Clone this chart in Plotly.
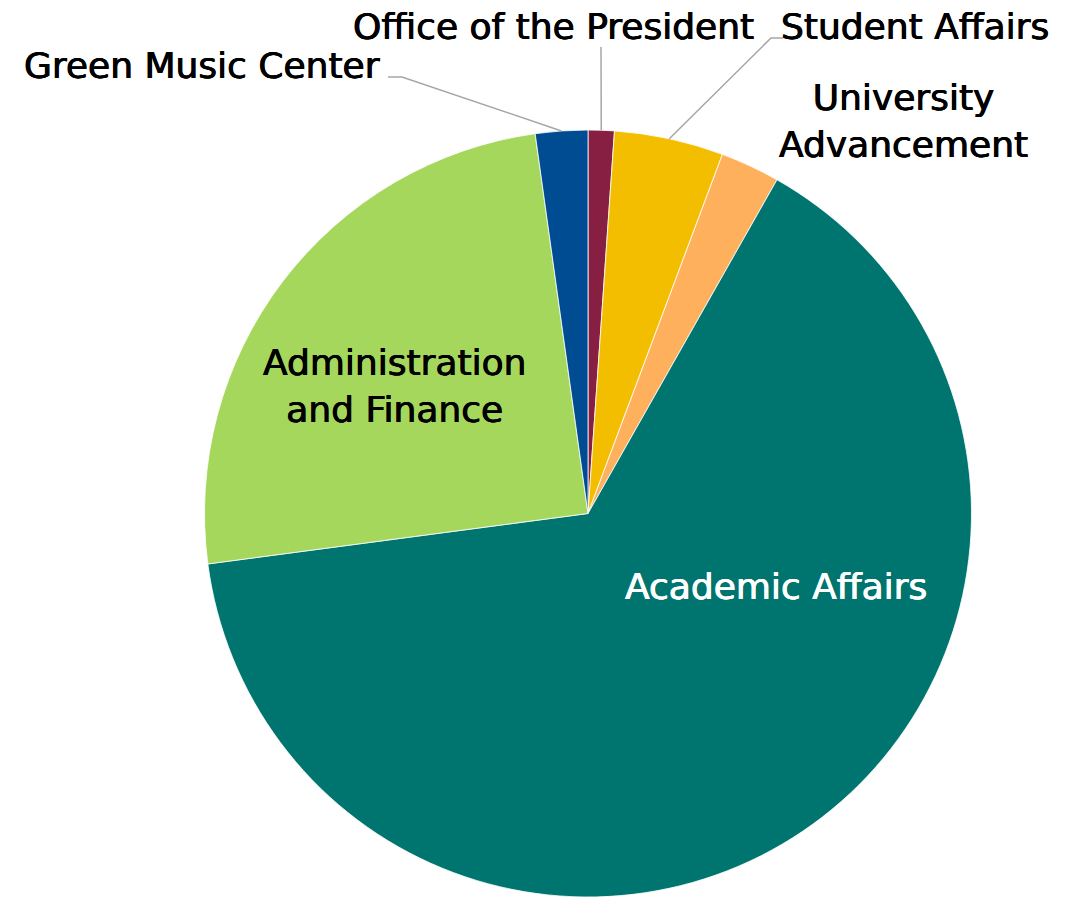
import math
import plotly.graph_objects as go

# Share of budget by division (%), in clockwise order from 12 o'clock
divisions = [
    "Office of the President",
    "Student Affairs",
    "University Advancement",
    "Academic Affairs",
    "Administration and Finance",
    "Green Music Center",
]
shares = [1.1, 4.6, 2.5, 64.7, 24.9, 2.2]
colors = ["#861F41", "#F4BE00", "#FFB05C", "#00756F", "#A6D75D", "#004C93"]

W, H = 1074, 897
FONT = "DejaVu Sans"
FS = 36

# pie placement in pixels
cx, cy, r = 588.0, 513.5, 383.5


def px(x):
    return x / W


def py(y):
    return 1 - y / H


fig = go.Figure(
    go.Pie(
        labels=divisions,
        values=shares,
        sort=False,
        direction="clockwise",
        rotation=0,
        marker=dict(colors=colors, line=dict(color="white", width=0.8)),
        textinfo="none",
        hoverinfo="label+percent",
        domain=dict(x=[px(cx - r), px(cx + r)], y=[py(cy + r), py(cy - r)]),
        showlegend=False,
    )
)

# mid-angle of each slice on the rim (clockwise from top)
total = sum(shares)
mid_pts = {}
acc = 0.0
for name, v in zip(divisions, shares):
    a = math.radians((acc + v / 2) / total * 360)
    mid_pts[name] = (cx + r * math.sin(a), cy - r * math.cos(a))
    acc += v

# label text: (name, text, x, y, colour)
labels = [
    ("Green Music Center", "Green Music Center", 202, 66, "#000000"),
    ("Office of the President", "Office of the President", 553, 26, "#000000"),
    ("Student Affairs", "Student Affairs", 915, 26, "#000000"),
    ("University Advancement", "University<br>Advancement", 903, 121, "#000000"),
    ("Administration and Finance", "Administration<br>and Finance", 395, 386, "#000000"),
    ("Academic Affairs", "Academic Affairs", 776, 586, "#FFFFFF"),
]
for _, text, x, y, col in labels:
    fig.add_annotation(
        x=px(x), y=py(y), xref="paper", yref="paper",
        text=text, showarrow=False, xanchor="center", yanchor="middle",
        font=dict(family=FONT, size=FS, color=col,
                  shadow=f"0.45px 0 0 {col}, -0.45px 0 0 {col}"),
    )

# leader lines: elbow points near the labels, ending on the slice rims
leaders = [
    ("Green Music Center", [(388, 77), (402, 77)]),
    ("Office of the President", [(601, 47)]),
    ("Student Affairs", [(783, 38), (771, 38)]),
]
for name, pts in leaders:
    pts = pts + [mid_pts[name]]
    path = "M " + " L ".join(f"{px(x)},{py(y)}" for x, y in pts)
    fig.add_shape(
        type="path", path=path, xref="paper", yref="paper",
        line=dict(color="#A6A6A6", width=1.5),
    )

fig.update_layout(
    width=W, height=H,
    margin=dict(l=0, r=0, t=0, b=0),
    paper_bgcolor="white", plot_bgcolor="white",
)

fig.write_html("out.html")
